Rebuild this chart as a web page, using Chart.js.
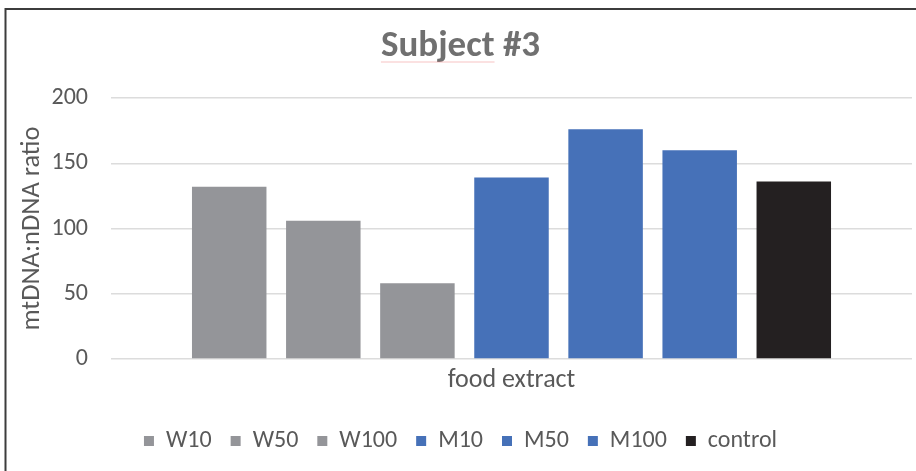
<!DOCTYPE html>
<html>
<head>
<meta charset="utf-8">
<script src="https://cdn.jsdelivr.net/npm/chart.js@4/dist/chart.umd.min.js"></script>
<style>
  html, body { margin: 0; padding: 0; background: #ffffff; }
  #wrap { width: 916px; height: 471px; position: relative; }
</style>
</head>
<body>
<div id="wrap"><canvas id="chart"></canvas></div>
<script>
// Series names, values and colours for the single "food extract" group
const seriesNames = ['W10', 'W50', 'W100', 'M10', 'M50', 'M100', 'control'];
const seriesValues = [132, 106, 58, 139, 176, 160, 136];
const seriesColors = ['#949599', '#949599', '#949599', '#4671b8', '#4671b8', '#4671b8', '#242021'];
const categoryLabels = ['food extract'];
const yTicks = [0, 50, 100, 150, 200];

const FONT = 'Carlito, Lato, "Open Sans", sans-serif';
const TEXT = '#595959';

// Frame lines along the top and left edges
const framePlugin = {
  id: 'frame',
  beforeDraw(chart) {
    const ctx = chart.ctx;
    ctx.save();
    ctx.strokeStyle = '#3c3c3c';
    ctx.lineWidth = 2;
    ctx.beginPath();
    ctx.moveTo(5.5, chart.height);
    ctx.lineTo(5.5, 9);
    ctx.lineTo(chart.width, 9);
    ctx.stroke();
    ctx.restore();
  }
};

// Faint spell-check squiggle under the first word of the title
const squigglePlugin = {
  id: 'squiggle',
  afterDraw(chart) {
    const tb = chart.titleBlock;
    if (!tb) return;
    const opts = chart.options.plugins.title;
    const ctx = chart.ctx;
    ctx.save();
    ctx.font = 'bold ' + opts.font.size + 'px ' + FONT;
    const full = ctx.measureText(opts.text).width;
    const first = ctx.measureText(opts.text.split(' ')[0]).width;
    const x0 = (tb.left + tb.right) / 2 - full / 2;
    const y = tb.top + opts.padding.top + opts.font.size * 1.2 / 2 + opts.font.size * 0.4;
    ctx.strokeStyle = 'rgba(235,120,120,0.45)';
    ctx.lineWidth = 1;
    ctx.beginPath();
    ctx.moveTo(x0, y);
    ctx.lineTo(x0 + first, y);
    ctx.stroke();
    ctx.restore();
  }
};

const datasets = seriesNames.map((name, i) => ({
  label: name,
  data: [seriesValues[i]],
  backgroundColor: seriesColors[i],
  borderWidth: 0,
  categoryPercentage: 0.8223,
  barPercentage: 0.7917
}));

new Chart(document.getElementById('chart'), {
  type: 'bar',
  data: { labels: categoryLabels, datasets },
  options: {
    responsive: true,
    maintainAspectRatio: false,
    animation: false,
    layout: { padding: { left: 9, right: 4, top: 0, bottom: 8 } },
    plugins: {
      tooltip: { enabled: false },
      title: {
        display: true,
        text: 'Subject #3',
        color: '#707070',
        font: { family: FONT, size: 37, weight: 'bold' },
        padding: { top: 25, bottom: 28.6 }
      },
      legend: {
        display: true,
        position: 'bottom',
        labels: {
          color: TEXT,
          font: { family: FONT, size: 24 },
          boxWidth: 10,
          boxHeight: 10,
          padding: 19
        }
      }
    },
    scales: {
      x: {
        grid: { display: false, drawTicks: false },
        border: { display: false },
        ticks: { color: TEXT, font: { family: FONT, size: 26 }, padding: 6 },
        afterFit(scale) { scale.height = 51; }
      },
      y: {
        min: 0,
        max: 200,
        afterBuildTicks(scale) { scale.ticks = yTicks.map(v => ({ value: v })); },
        grid: { color: '#dcdcdc', lineWidth: 1.5, drawTicks: false },
        border: { display: false },
        ticks: { color: TEXT, font: { family: FONT, size: 24 }, padding: 23 },
        title: {
          display: true,
          text: 'mtDNA:nDNA ratio',
          color: TEXT,
          font: { family: FONT, size: 26.5 },
          padding: { top: 7, bottom: 0 }
        },
        afterFit(scale) { scale.width = 102; }
      }
    }
  },
  plugins: [framePlugin, squigglePlugin]
});
</script>
</body>
</html>
